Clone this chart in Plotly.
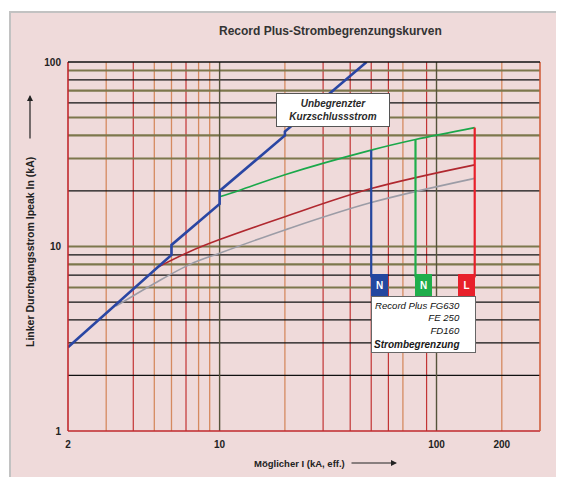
import numpy as np
import plotly.graph_objects as go

# ---------------- data ----------------
x_ticks = [2, 10, 100, 200]
x_tick_labels = ["2", "10", "100", "200"]
y_ticks = [1, 10, 100]
y_tick_labels = ["1", "10", "100"]

# vertical grid lines (kA, prospective current)
xgrid_red = [4, 7, 30, 40, 50, 60, 90]
xgrid_orange = [3, 5, 6, 8, 9, 20, 70, 200]
xgrid_dark = [10, 100]
# horizontal grid lines (kA peak)
ygrid_black = [2, 3, 4, 5, 7, 9, 20, 60, 80]
ygrid_olive = [6, 8, 10, 30, 40, 50, 70, 90]

# unlimited short-circuit current (peak)
blue_x = [2, 6, 6, 10, 10, 20, 20, 47.6]
blue_y = [2.84, 9.0, 10.2, 17.0, 20.0, 40.0, 42.0, 100]
# FG630 let-through curve
green_x = [10, 12.4, 20, 50, 80, 150]
green_y = [18.6, 20.2, 24.5, 33.3, 38.0, 44.1]
# FE250 let-through curve
red_x = [5.1, 7.3, 10, 20, 50, 150]
red_y = [7.65, 9.4, 10.9, 14.5, 20.6, 27.7]
# FD160 let-through curve
grey_x = [3.33, 5, 7.3, 10, 20, 50, 150]
grey_y = [4.75, 6.3, 8.0, 9.2, 12.3, 17.3, 23.4]

# breaking-capacity markers
cap_x = [50, 80, 150]
cap_top = [33.3, 38.0, 44.1]
cap_bottom = 6.8
cap_colors = ["#2447a0", "#1fae4b", "#e8202b"]
cap_labels = ["N", "N", "L"]

XMIN, XMAX = 2, 300
YMIN, YMAX = 1, 100

fig = go.Figure()


def vlines(xs, color, width):
    xx, yy = [], []
    for v in xs:
        xx += [v, v, None]
        yy += [YMIN, YMAX, None]
    fig.add_trace(go.Scatter(x=xx, y=yy, mode="lines", line=dict(color=color, width=width),
                             hoverinfo="skip", showlegend=False))


def hlines(ys, color, width):
    xx, yy = [], []
    for v in ys:
        xx += [XMIN, XMAX, None]
        yy += [v, v, None]
    fig.add_trace(go.Scatter(x=xx, y=yy, mode="lines", line=dict(color=color, width=width),
                             hoverinfo="skip", showlegend=False))


vlines(xgrid_orange, "#d58a60", 1.3)
vlines(xgrid_red, "#c23434", 1.2)
hlines(ygrid_olive, "#7d774c", 2.1)
hlines(ygrid_black, "#111111", 1.2)
vlines(xgrid_dark, "#55533a", 1.4)

# curves
fig.add_trace(go.Scatter(x=grey_x, y=grey_y, mode="lines", line=dict(color="#9c9ca6", width=1.6),
                         line_shape="spline", hoverinfo="skip", showlegend=False))
fig.add_trace(go.Scatter(x=red_x, y=red_y, mode="lines", line=dict(color="#b0282f", width=1.6),
                         line_shape="spline", hoverinfo="skip", showlegend=False))
fig.add_trace(go.Scatter(x=green_x, y=green_y, mode="lines", line=dict(color="#1aa84a", width=1.6),
                         line_shape="spline", hoverinfo="skip", showlegend=False))
for cx, ct, cc in zip(cap_x, cap_top, cap_colors):
    fig.add_trace(go.Scatter(x=[cx, cx], y=[ct, cap_bottom], mode="lines",
                             line=dict(color=cc, width=2.2), hoverinfo="skip", showlegend=False))
fig.add_trace(go.Scatter(x=blue_x, y=blue_y, mode="lines", line=dict(color="#2a46a3", width=2.6),
                         hoverinfo="skip", showlegend=False))

# ---------------- layout helpers (reference pixel -> paper) ----------------
W, H = 564, 477
OFF = 8  # page body margin
L, R, T, B = 68, 540, 62, 431


def px(x):
    return (x - L) / (R - L)


def py(y):
    return (B - y) / (B - T)


shapes = [
    # outer pink frame
    dict(type="rect", xref="paper", yref="paper", x0=px(10), x1=px(590), y0=py(12), y1=py(500),
         fillcolor="#efdada", line=dict(color="#c2c2c2", width=2), layer="below"),
    # plot borders
    dict(type="line", xref="paper", yref="paper", x0=0, x1=0, y0=0, y1=1, line=dict(color="#c0282d", width=1.6)),
    dict(type="line", xref="paper", yref="paper", x0=0, x1=1, y0=0, y1=0, line=dict(color="#c0282d", width=1.6)),
    dict(type="line", xref="paper", yref="paper", x0=1, x1=1, y0=0, y1=1, line=dict(color="#d0603e", width=1.6)),
    dict(type="line", xref="paper", yref="paper", x0=0, x1=1, y0=1, y1=1, line=dict(color="#111111", width=1.4)),
]

sans = "Liberation Sans, Arial, Helvetica, sans-serif"

C = dict(xanchor="center", yanchor="middle")
ann = []
ann.append(dict(xref="paper", yref="paper", x=px(330), y=py(31), showarrow=False, **C,
                text="<b>Record Plus-Strombegrenzungskurven</b>",
                font=dict(family=sans, size=12, color="#333333")))
# unlimited current box
ann.append(dict(xref="paper", yref="paper", x=px(333), y=py(110), showarrow=False, **C,
                text="<b><i>Unbegrenzter<br>Kurzschlussstrom</i></b>",
                font=dict(family=sans, size=10, color="#2a2a2a"),
                bgcolor="#ffffff", bordercolor="#555555", borderwidth=1, borderpad=0,
                width=112, height=32, align="center"))
# legend box
ann.append(dict(xref="paper", yref="paper", x=px(423.5), y=py(324.5), showarrow=False, text=" ", **C,
                bgcolor="#ffffff", bordercolor="#666666", borderwidth=1, borderpad=0,
                width=103, height=55))
ann.append(dict(xref="paper", yref="paper", x=px(462), y=py(318), xanchor="right", yanchor="middle",
                showarrow=False,
                text="<i>Record Plus FG630</i><br><i>FE 250</i><br><i>FD160</i>",
                font=dict(family=sans, size=9.6, color="#111111"), align="right"))
ann.append(dict(xref="paper", yref="paper", x=px(462), y=py(344.5), xanchor="right", yanchor="middle",
                showarrow=False, text="<b><i>Strombegrenzung</i></b>",
                font=dict(family=sans, size=10, color="#1a1a1a"), align="right"))
# N / N / L markers
for cx, cc, cl in zip(cap_x, cap_colors, cap_labels):
    ann.append(dict(xref="x", yref="paper", x=np.log10(cx), y=py(285),
                    xanchor="left" if cl == "N" else "right", yanchor="middle", showarrow=False,
                    text="<b>%s</b>" % cl, font=dict(family=sans, size=10, color="#ffffff"),
                    bgcolor=cc, borderpad=0, borderwidth=0, width=17, height=22))
# axis titles
ann.append(dict(xref="paper", yref="paper", x=px(299), y=py(463), showarrow=False, **C,
                text="Möglicher I (kA, eff.)", font=dict(family=sans, size=9.5, color="#222222", weight=600)))
ann.append(dict(xref="paper", yref="paper", x=px(397), y=py(463), showarrow=True, ax=-47, ay=0,
                text="", arrowhead=2, arrowsize=1, arrowwidth=1.2, arrowcolor="#222222"))
ann.append(dict(xref="paper", yref="paper", x=px(30), y=py(252), showarrow=False, textangle=-90, **C,
                text="Linker Durchgangsstrom Ipeak In (kA)",
                font=dict(family=sans, size=10.5, color="#222222", weight=600)))
ann.append(dict(xref="paper", yref="paper", x=px(30), y=py(95), showarrow=True, ax=0, ay=45,
                text="", arrowhead=2, arrowsize=1, arrowwidth=1.2, arrowcolor="#222222"))

fig.update_layout(
    width=W, height=H,
    margin=dict(l=L - OFF, r=W - (R - OFF), t=T - OFF, b=H - (B - OFF), pad=0),
    paper_bgcolor="#ffffff",
    plot_bgcolor="#fff69c",
    shapes=shapes,
    annotations=ann,
    showlegend=False,
)
fig.update_xaxes(type="log", range=[np.log10(XMIN), np.log10(XMAX)], showgrid=False, zeroline=False,
                 tickvals=x_ticks, ticktext=x_tick_labels, ticks="", showline=False,
                 tickfont=dict(family=sans, size=10, color="#222222", weight=600), ticklabelstandoff=6)
fig.update_yaxes(type="log", range=[np.log10(YMIN), np.log10(YMAX)], showgrid=False, zeroline=False,
                 tickvals=y_ticks, ticktext=y_tick_labels, ticks="", showline=False,
                 tickfont=dict(family=sans, size=10, color="#222222", weight=600), ticklabelstandoff=6)

fig.write_html("out.html")
